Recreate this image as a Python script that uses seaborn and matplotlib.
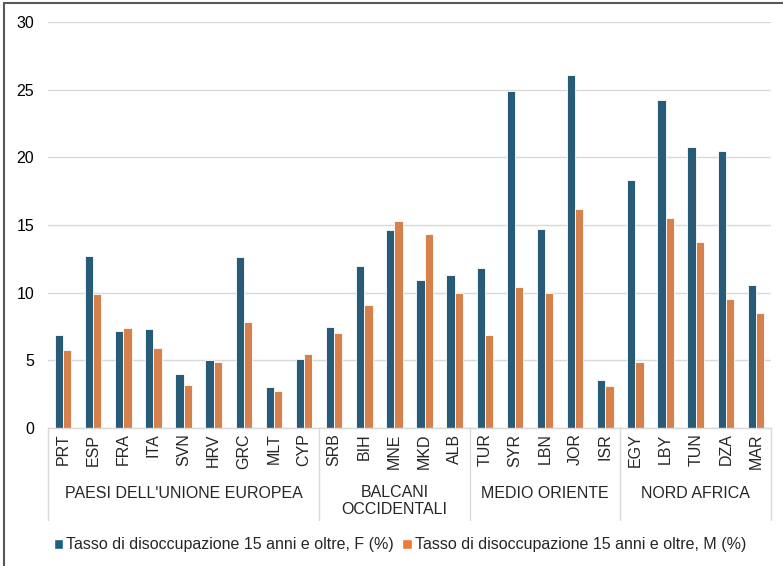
import pandas as pd
import seaborn as sns
import matplotlib.pyplot as plt
from matplotlib.patches import Patch, Rectangle

# Dati
paesi = ['PRT', 'ESP', 'FRA', 'ITA', 'SVN', 'HRV', 'GRC', 'MLT', 'CYP',
         'SRB', 'BIH', 'MNE', 'MKD', 'ALB',
         'TUR', 'SYR', 'LBN', 'JOR', 'ISR',
         'EGY', 'LBY', 'TUN', 'DZA', 'MAR']
gruppi = ["PAESI DELL'UNIONE EUROPEA", 'BALCANI\nOCCIDENTALI',
          'MEDIO ORIENTE', 'NORD AFRICA']
n_per_gruppo = [9, 5, 5, 5]
femmine = [6.9, 12.7, 7.2, 7.3, 4.0, 5.0, 12.6, 3.0, 5.1,
           7.5, 12.0, 14.6, 10.9, 11.3,
           11.8, 24.9, 14.7, 26.1, 3.55,
           18.3, 24.2, 20.8, 20.5, 10.6]
maschi = [5.8, 9.9, 7.4, 5.9, 3.2, 4.9, 7.8, 2.7, 5.5,
          7.0, 9.1, 15.3, 14.3, 10.0,
          6.9, 10.4, 10.0, 16.2, 3.1,
          4.9, 15.5, 13.75, 9.5, 8.5]
serie_f = 'Tasso di disoccupazione 15 anni e oltre, F (%)'
serie_m = 'Tasso di disoccupazione 15 anni e oltre, M (%)'

df = pd.DataFrame({'paese': paesi * 2,
                   'valore': femmine + maschi,
                   'serie': [serie_f] * len(paesi) + [serie_m] * len(paesi)})

colori = {serie_f: '#1A5F84', serie_m: '#ED7A35'}

sns.set_style('white')
plt.rcParams['font.family'] = ['Liberation Sans', 'DejaVu Sans']

fig = plt.figure(figsize=(7.83, 5.66), dpi=100)
ax = fig.add_axes([48 / 783, 1 - 428 / 566, 723 / 783, 406 / 566])

sns.barplot(data=df, x='paese', y='valore', hue='serie', palette=colori,
            width=0.55, edgecolor='white', linewidth=0.6, legend=False, ax=ax)

ax.set_ylim(0, 30)
ax.set_xlim(-0.5, len(paesi) - 0.5)
ax.set_yticks(range(0, 31, 5))
ax.yaxis.grid(True, color='#D9D9D9', linewidth=1)
ax.set_axisbelow(True)
for s in ['left', 'right', 'top']:
    ax.spines[s].set_visible(False)
ax.spines['bottom'].set_color('#D9D9D9')
ax.spines['bottom'].set_linewidth(1)
ax.set_xlabel('')
ax.set_ylabel('')
ax.tick_params(axis='y', length=0, pad=10, labelsize=11.5, colors='#000000')
ax.tick_params(axis='x', length=0, pad=4, labelsize=11.5, labelrotation=90)

# Separatori e etichette dei gruppi
trans = ax.get_xaxis_transform()
sep_bottom = -(520 - 428) / 406
pos = -0.5
ax.plot([pos, pos], [0, sep_bottom], transform=trans, color='#D9D9D9',
        linewidth=1, clip_on=False)
for nome, n in zip(gruppi, n_per_gruppo):
    centro = pos + n / 2
    ax.text(centro, -(493 - 428) / 406 if '\n' not in nome else -(501 - 428) / 406,
            nome, transform=trans, ha='center', va='center', fontsize=11.5,
            linespacing=1.1)
    pos += n
    ax.plot([pos, pos], [0, sep_bottom], transform=trans, color='#D9D9D9',
            linewidth=1, clip_on=False)

# Legenda
maniglie = [Patch(facecolor=colori[serie_f], label=serie_f),
            Patch(facecolor=colori[serie_m], label=serie_m)]
fig.legend(handles=maniglie, loc='center', bbox_to_anchor=(400 / 783, 1 - 545 / 566),
           ncol=2, frameon=False, fontsize=11.5, handlelength=0.6, handleheight=0.6,
           handletextpad=0.2, columnspacing=0.5)

# Cornice
fig.patches.append(Rectangle((4 / 783, -0.01), 1.0, 1 - 3 / 566 + 0.01,
                             transform=fig.transFigure, fill=False,
                             edgecolor='#595959', linewidth=1.5))

plt.savefig('out.png', dpi=100)
